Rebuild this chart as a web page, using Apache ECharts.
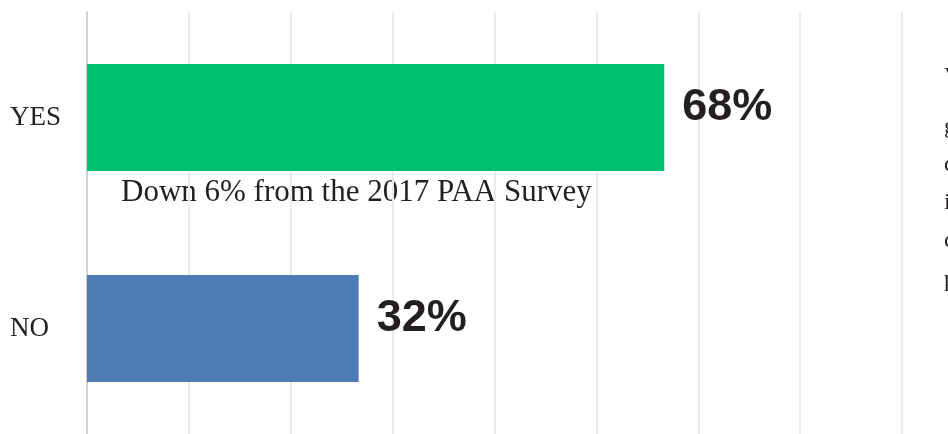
<!DOCTYPE html>
<html>
<head>
<meta charset="utf-8">
<script src="https://cdn.jsdelivr.net/npm/echarts@6/dist/echarts.min.js"></script>
<style>html,body{margin:0;padding:0;background:#fff;}#c{width:948px;height:434px;}</style>
</head>
<body>
<div id="c"></div>
<script>
var categories = ['YES', 'NO'];
var values = [68, 32];
var barColors = ['#00BF6F', '#4F7CB5'];
var note = 'Down 6% from the 2017 PAA Survey';
var sideText = ['V', 'g', 'c', 'i', 'c', 'p'];
var sideTextTops = [65, 115, 153, 191, 229, 268];

var chart = echarts.init(document.getElementById('c'), null, {renderer: 'canvas'});
var serif = '"Liberation Serif", "DejaVu Serif", serif';
var graphics = [{
  type: 'text', left: 121, top: 177,
  style: {text: note, font: '31px ' + serif, fill: '#231f20'}
}];
sideText.forEach(function (t, i) {
  graphics.push({
    type: 'text', left: 944, top: sideTextTops[i],
    style: {text: t, font: '24px ' + serif, fill: '#231f20'}
  });
});
chart.setOption({
  animation: false,
  grid: {left: 87, right: 46, top: 12, bottom: -6, containLabel: false},
  xAxis: {
    type: 'value', min: 0, max: 96, interval: 12,
    axisLabel: {show: false}, axisLine: {show: false}, axisTick: {show: false},
    splitLine: {show: true, lineStyle: {color: '#ebebeb', width: 2}}
  },
  yAxis: {
    type: 'category', data: categories, inverse: true,
    axisLine: {show: true, lineStyle: {color: '#cfcfcf', width: 2}},
    axisTick: {show: false},
    axisLabel: {margin: 77, align: 'left', color: '#222', fontFamily: serif, fontSize: 27, padding: [0, 0, 6, 0]}
  },
  series: [{
    type: 'bar',
    barWidth: 107,
    data: values.map(function (v, i) {
      return {value: v, itemStyle: {color: barColors[i]}};
    }),
    label: {
      show: true, position: 'right', distance: 18, offset: [0, -10],
      formatter: function (p) { return p.value + '%'; },
      fontFamily: '"Liberation Sans", Arial, sans-serif', fontWeight: 'bold',
      fontSize: 45, color: '#231f20'
    }
  }],
  graphic: graphics
});
</script>
</body>
</html>
